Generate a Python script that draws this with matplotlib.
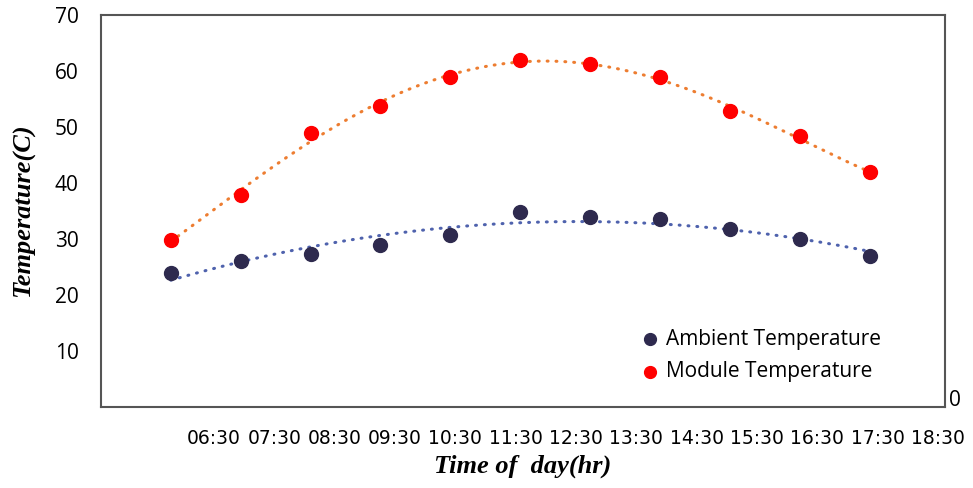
import numpy as np
import matplotlib.pyplot as plt

# hourly readings, one per slot
slot = np.arange(1, 12)
ambient = [24, 26, 27.4, 28.9, 30.8, 34.8, 34, 33.5, 31.8, 30, 27]
module = [29.8, 37.8, 48.9, 53.8, 59, 61.9, 61.2, 59, 52.9, 48.4, 41.9]
time_labels = ['06:30', '07:30', '08:30', '09:30', '10:30', '11:30', '12:30',
               '13:30', '14:30', '15:30', '16:30', '17:30', '18:30']
yticks = [10, 20, 30, 40, 50, 60, 70]

fig = plt.figure(figsize=(9.73, 4.88), dpi=100)
ax = fig.add_axes([0.1038, 0.166, 0.8674, 0.803])

# excel style polynomial trendlines
xs = np.linspace(1, 11, 200)
for y, c, deg in [(ambient, '#4f62ad', 2), (module, '#ed7d31', 4)]:
    p = np.polyfit(slot, y, deg)
    ax.plot(xs, np.polyval(p, xs), color=c, lw=2.2, linestyle=(0, (0.3, 2.6)),
            dash_capstyle='round', zorder=2)

ax.scatter(slot, ambient, s=100, color='#2e2a4e', zorder=3, label='Ambient Temperature')
ax.scatter(slot, module, s=100, color='#ff0000', zorder=3, label='Module Temperature')

ax.set_xlim(0, 12.08)
ax.set_ylim(0, 70)
ax.set_xticks([])
ax.set_yticks(yticks)
ax.set_yticklabels([str(t) for t in yticks], fontsize=15, family='Open Sans')
ax.tick_params(axis='y', length=0, pad=16)
for s in ax.spines.values():
    s.set_color('#555555')
    s.set_linewidth(1.5)

# the odd lone zero at the bottom right corner
fig.text(0.975, 0.18, '0', fontsize=15, family='Open Sans', va='center')

# time labels sit under the plot, not lined up with the points
pos = np.linspace(214, 938, len(time_labels)) / 973
for p_, t in zip(pos, time_labels):
    fig.text(p_, 0.102, t, ha='center', va='center', fontsize=13.5,
             family='DejaVu Sans')

fig.text(0.537, 0.045, 'Time of  day(hr)', ha='center', va='center', fontsize=19,
         family='Liberation Serif', style='italic', weight='bold')
fig.text(0.024, 0.57, 'Temperature(C)', ha='center', va='center', rotation=90,
         fontsize=19, family='Liberation Serif', style='italic', weight='bold')

leg = ax.legend(loc='lower right', bbox_to_anchor=(0.947, 0.016), frameon=False,
                prop={'family': 'Open Sans', 'size': 15}, handletextpad=-0.2,
                labelspacing=0.55, markerscale=0.85)

fig.savefig('out.png', dpi=100)
